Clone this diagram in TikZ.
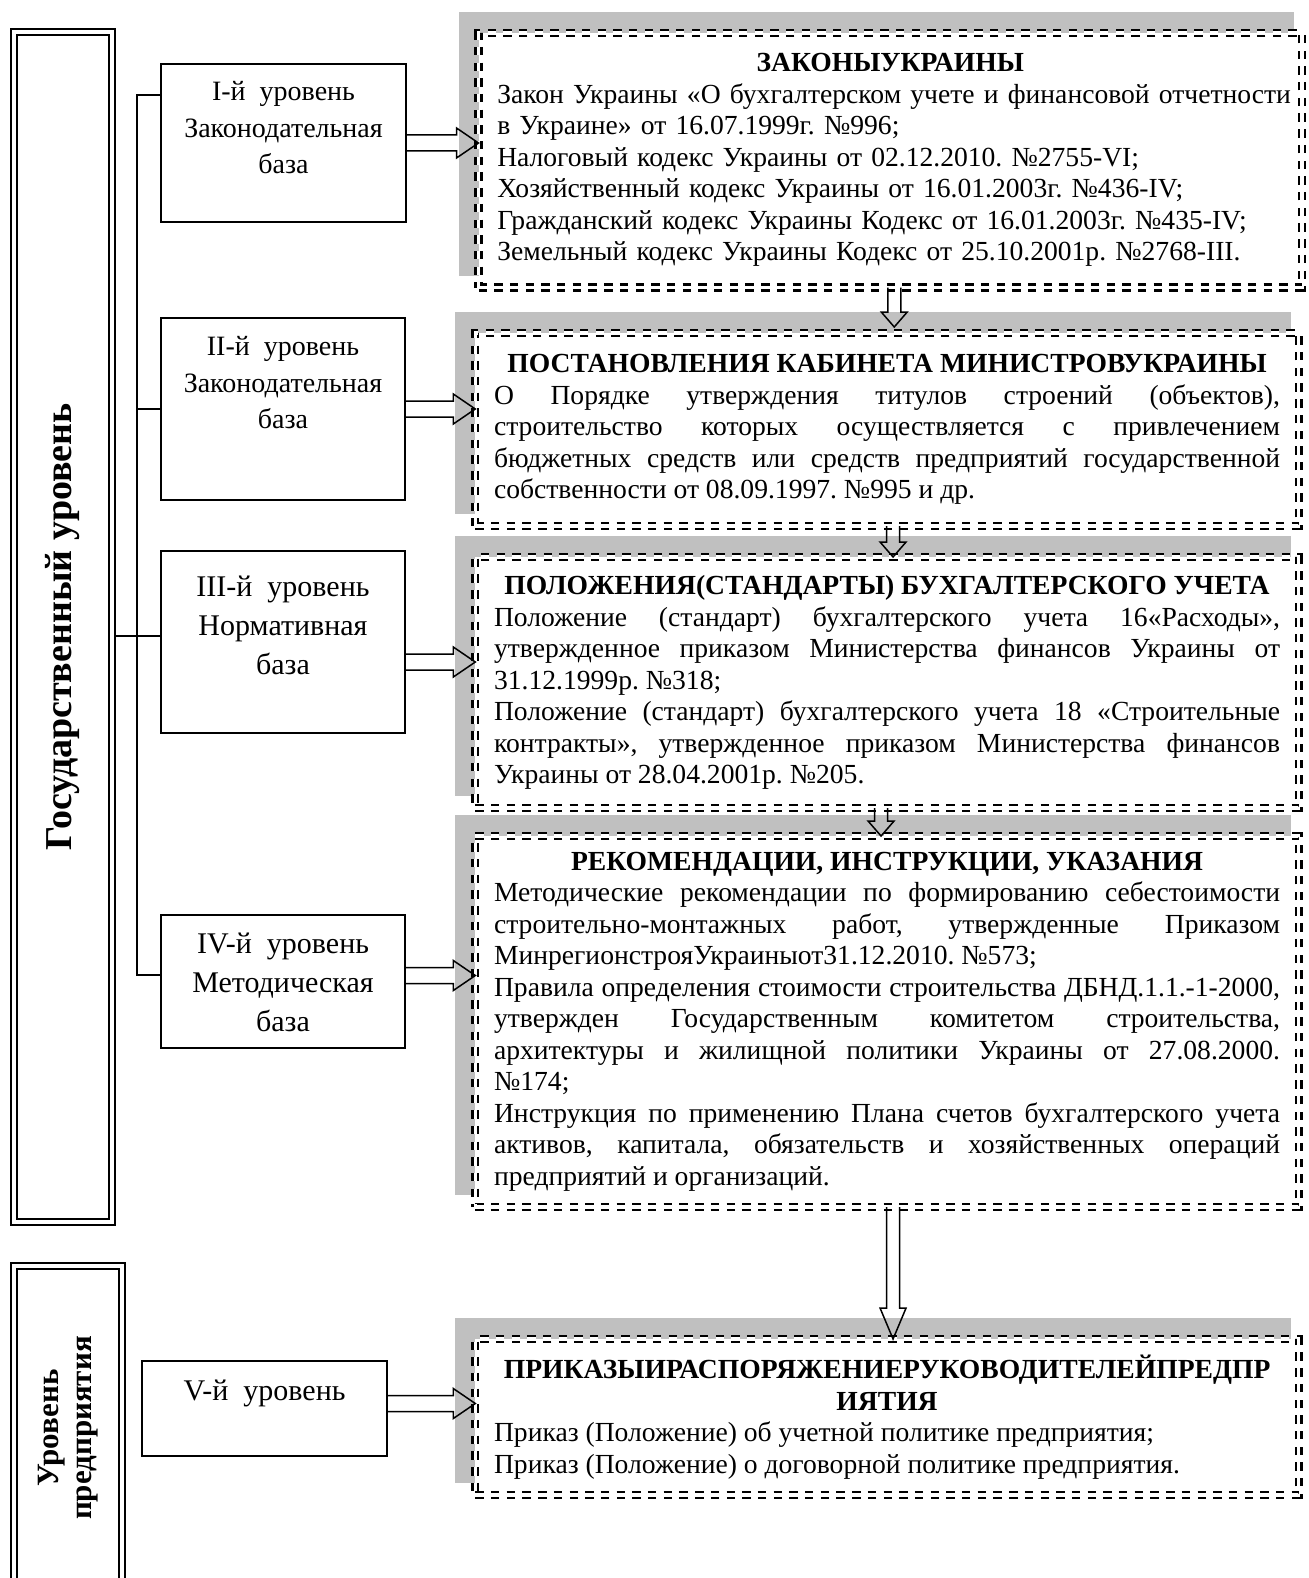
\documentclass[tikz,border=0pt]{standalone}
\usepackage{fontspec}
\setmainfont{Liberation Serif}
\usetikzlibrary{positioning,calc,backgrounds}
\definecolor{shadegray}{RGB}{192,192,192}
\setlength{\parindent}{0pt}
\frenchspacing
\tolerance=10000 \hbadness=10000 \hyphenpenalty=10000 \exhyphenpenalty=10000
% hollow block arrows: start, tip (same y) / start, tip, head length (same x)
\newcommand{\rarrow}[2]{%
  \draw[hollow] ($(#1)+(0,-8)$) -- ($(#2)+(-22,-8)$) -- ($(#2)+(-22,-15)$) -- (#2)
    -- ($(#2)+(-22,15)$) -- ($(#2)+(-22,8)$) -- ($(#1)+(0,8)$);}
\newcommand{\darrow}[3]{%
  \draw[hollow] ($(#1)+(-6.5,0)$) -- ($(#2)+(-6.5,-#3)$) -- ($(#2)+(-13,-#3)$) -- (#2)
    -- ($(#2)+(13,-#3)$) -- ($(#2)+(6.5,-#3)$) -- ($(#1)+(6.5,0)$);}
\tikzset{
  levelbox/.style={draw,double,line width=1pt,double distance=2pt,outer sep=2pt,
    inner sep=0pt,align=center,font=\fontsize{19}{22}\selectfont\bfseries},
  lvlbox/.style={draw,line width=0.75pt,inner sep=0pt},
  lvltext/.style={inner sep=0pt,align=center,font=\fontsize{14}{18.25}\selectfont},
  lvltextbig/.style={lvltext,font=\fontsize{15}{19.5}\selectfont},
  lawbox/.style={draw,fill=white,double,line width=1.25pt,double distance=1.6pt,
    dash pattern=on 4.2pt off 3.65pt,outer sep=0pt,minimum width=411.75pt,
    text width=393pt,align=justify,font=\fontsize{13.8}{15.75}\selectfont},
  shadefill/.style={fill=shadegray},
  hollow/.style={draw,line width=0.75pt,line join=miter},
  tree/.style={draw,line width=0.75pt},
}
\begin{document}
\begin{tikzpicture}[x=0.5pt,y=-0.5pt]
  \useasboundingbox (0,0) rectangle (1308,1578);

  % left column
  \node[levelbox,rotate=90,minimum width=595pt,minimum height=49pt] (gov) at (63,627)
    {Государственный уровень};
  \node[levelbox,rotate=90,minimum width=162pt,minimum height=54pt,
    font=\fontsize{15.5}{16.5}\selectfont\bfseries] (firm) at (68,1428)
    {Уровень\\предприятия};

  \node[lvlbox,minimum width=122.5pt,minimum height=79pt] (lvl1) at (283.5,143) {};
  \node[lvlbox,minimum width=122pt,minimum height=91pt] (lvl2) at (283,409) {};
  \node[lvlbox,minimum width=122pt,minimum height=91pt] (lvl3) at (283,642) {};
  \node[lvlbox,minimum width=122pt,minimum height=66.5pt] (lvl4) at (283,981.5) {};
  \node[lvlbox,minimum width=122.5pt,minimum height=47.5pt] (lvl5) at (264.5,1408.5) {};

  \node[lvltext,below=9pt of lvl1.north] (lvl1t) {I-й~~уровень\\Законодательная\\база};
  \node[lvltext,below=9.5pt of lvl2.north] (lvl2t) {II-й~~уровень\\Законодательная\\база};
  \node[lvltextbig,below=12.5pt of lvl3.north] (lvl3t) {III-й~~уровень\\Нормативная\\база};
  \node[lvltextbig,below=9pt of lvl4.north] (lvl4t) {IV-й~~уровень\\Методическая\\база};
  \node[lvltextbig,below=9.5pt of lvl5.north] (lvl5t) {V-й~~уровень};

  % right column
  \node[lawbox,align=left,minimum height=127.25pt] (law) at (890.25,160.25) {%
    \centerline{\bfseries ЗАКОНЫУКРАИНЫ}
    \mbox{Закон Украины «О бухгалтерском учете и финансовой отчетности}\par
    в Украине» от 16.07.1999г. №996;\par
    Налоговый кодекс Украины от 02.12.2010. №2755-VI;\par
    Хозяйственный кодекс Украины от 16.01.2003г. №436-IV;\par
    Гражданский кодекс Украины Кодекс от 16.01.2003г. №435-IV;\par
    Земельный кодекс Украины Кодекс от 25.10.2001р. №2768-III.};

  \node[lawbox,minimum height=96.5pt,below=22.75pt of law,xshift=-1.6pt] (cab) {%
    \centerline{\bfseries ПОСТАНОВЛЕНИЯ КАБИНЕТА МИНИСТРОВУКРАИНЫ}
    О Порядке утверждения титулов строений (объектов),\linebreak
    строительство которых осуществляется с привлечением\linebreak
    бюджетных средств или средств предприятий государственной\linebreak
    собственности от 08.09.1997. №995 и др.};

  \node[lawbox,minimum height=125.5pt,below=15.5pt of cab] (std) {%
    \centerline{\bfseries ПОЛОЖЕНИЯ(СТАНДАРТЫ) БУХГАЛТЕРСКОГО УЧЕТА}
    Положение (стандарт) бухгалтерского учета 16«Расходы»,\linebreak
    утвержденное приказом Министерства финансов Украины от\linebreak
    31.12.1999р. №318;\par
    Положение (стандарт) бухгалтерского учета 18 «Строительные\linebreak
    контракты», утвержденное приказом Министерства финансов\linebreak
    Украины от 28.04.2001р. №205.};

  \node[lawbox,minimum height=185.5pt,below=14pt of std] (rec) {%
    \centerline{\bfseries РЕКОМЕНДАЦИИ, ИНСТРУКЦИИ, УКАЗАНИЯ}
    Методические рекомендации по формированию себестоимости\linebreak
    строительно-монтажных работ, утвержденные Приказом\linebreak
    МинрегионстрояУкраиныот31.12.2010. №573;\par
    Правила определения стоимости строительства ДБНД.1.1.-1-2000,\linebreak
    утвержден Государственным комитетом строительства,\linebreak
    архитектуры и жилищной политики Украины от 27.08.2000.\linebreak
    №174;\par
    Инструкция по применению Плана счетов бухгалтерского учета\linebreak
    активов, капитала, обязательств и хозяйственных операций\linebreak
    предприятий и организаций.};

  \node[lawbox,minimum height=78pt,below=66pt of rec] (ord) {%
    \centerline{\bfseries ПРИКАЗЫИРАСПОРЯЖЕНИЕРУКОВОДИТЕЛЕЙПРЕДПР}
    \centerline{\bfseries ИЯТИЯ}
    Приказ (Положение) об учетной политике предприятия;\par
    Приказ (Положение) о договорной политике предприятия.};

  \begin{scope}[on background layer]
    \foreach \b in {law,cab,std,rec,ord}
      \fill[shadefill] ($(\b.north west)+(-20,-21)$) rectangle ($(\b.south east)+(-8,-12)$);
  \end{scope}

  % tree
  \coordinate (t1) at (137,95);
  \coordinate (t3) at (137,636);
  \coordinate (t4) at (137,975);
  \draw[tree] (t1 -| lvl1.west) -- (t1) -- (t4) -- (t4 -| lvl4.west);
  \draw[tree] (lvl2.west) -- (lvl2.west -| t1);
  \draw[tree] (t3 -| gov.south) -- (t3 -| lvl3.west);

  % arrows to the right
  \coordinate (a1) at (lvl1.east);
  \coordinate (a2) at (lvl2.east);
  \coordinate (a3) at ($(lvl3.east)+(0,20)$);
  \coordinate (a4) at ($(lvl4.east)+(0,-6)$);
  \coordinate (a5) at ($(lvl5.east)+(0,-5)$);
  \coordinate (b1) at (a1 -| law.west);
  \coordinate (b2) at (a2 -| cab.west);
  \coordinate (b3) at (a3 -| std.west);
  \coordinate (b4) at (a4 -| rec.west);
  \coordinate (b5) at (a5 -| ord.west);
  \foreach \i in {1,...,5}{\rarrow{a\i}{b\i}}

  % arrows down
  \coordinate (c1) at ($(law.south)+(4,0)$);
  \coordinate (c2) at ($(cab.south)+(6,0)$);
  \coordinate (c3) at ($(std.south)+(-6,0)$);
  \coordinate (c4) at ($(rec.south)+(6,0)$);
  \coordinate (e1) at ($(c1 |- cab.north)+(0,-6)$);
  \coordinate (e2) at (c2 |- std.north);
  \coordinate (e3) at (c3 |- rec.north);
  \coordinate (e4) at (c4 |- ord.north);
  \darrow{c1}{e1}{15}
  \darrow{c2}{e2}{15}
  \darrow{c3}{e3}{15}
  \darrow{c4}{e4}{31}
\end{tikzpicture}
\end{document}
